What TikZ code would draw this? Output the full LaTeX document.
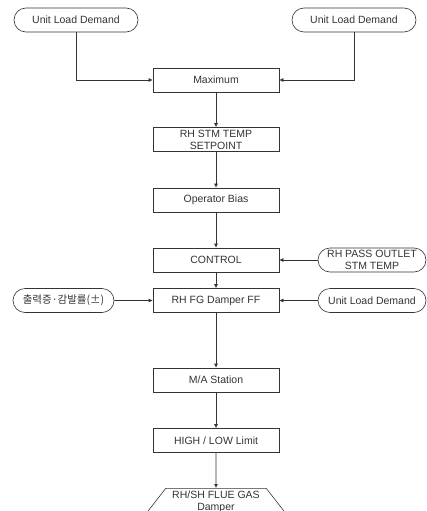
\documentclass[tikz,border=0pt]{standalone}
\usepackage{fontspec}
\setmainfont{Liberation Sans}
\newfontfamily\krfont{Noto Sans CJK KR}
\usetikzlibrary{arrows.meta,shapes.misc,shapes.geometric}

\tikzset{
	blk/.style={draw,rectangle,minimum width=126pt,minimum height=24pt,inner sep=1pt,align=center},
	term/.style={draw,rounded rectangle,minimum width=126pt,minimum height=24pt,inner sep=1pt,align=center},
	arr/.style={-{Latex[length=4pt,width=4pt]}},
}

\begin{document}
\begin{tikzpicture}[x=1pt,y=-1pt,font=\fontsize{10.5}{12}\selectfont,
		color=black!80,line width=0.6pt]
				\useasboundingbox(0,0)rectangle(427,511);
				% inputs at the top
				\node[term](uld1)at(76,20){Unit Load Demand};
				\node[term](uld2)at(354,20){Unit Load Demand};
				% main chain
				\node[blk](max)at(216,80){Maximum};
				\node[blk](setp)at(216,139.5){RH STM TEMP\\SETPOINT};
				\node[blk](bias)at(216,200){Operator Bias};
				\node[blk](ctrl)at(216,260){CONTROL};
				\node[blk](ff)at(216,300.5){RH FG Damper FF};
				\node[blk](mas)at(216,380){M/A Station};
				\node[blk](lim)at(216,440.5){HIGH / LOW Limit};
				\node[draw,trapezium,trapezium angle=52,anchor=north,minimum width=94pt,
					minimum height=34pt,inner sep=0pt,text depth=10pt,align=center](dmp)
					at(216,488){RH/SH FLUE GAS\\Damper};
				% side inputs
				\node[term,minimum width=110pt](tmp)at(372,260){RH PASS OUTLET\\STM TEMP};
				\node[term,minimum width=103pt](rate)at(63.5,300.5){\krfont 출력증·감발률(±)};
				\node[term,minimum width=110pt](uld3)at(372,300.5){Unit Load Demand};
				% connectors
				\draw[arr](uld1.south)|-(max.west);
				\draw[arr](uld2.south)|-(max.east);
				\draw[arr](max)--(setp);
				\draw[arr](setp)--(bias);
				\draw[arr](bias)--(ctrl);
				\draw[arr](ctrl)--(ff);
				\draw[arr](ff)--(mas);
				\draw[arr](mas)--(lim);
				\draw[arr](lim)--(dmp);
				\draw[arr](tmp)--(ctrl);
				\draw[arr](rate)--(ff);
				\draw[arr](uld3)--(ff);
			\end{tikzpicture}
\end{document}
